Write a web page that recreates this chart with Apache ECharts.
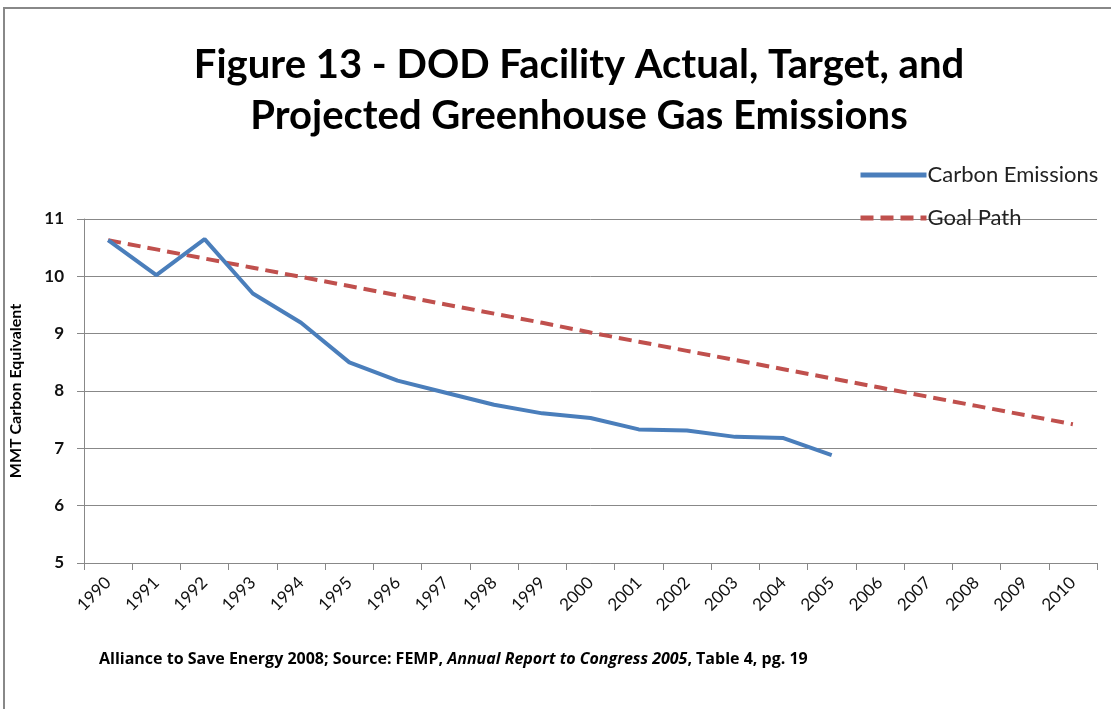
<!DOCTYPE html>
<html lang="en">
<head>
<meta charset="utf-8">
<style>
  html, body, #container { width: 1111px; height: 709px; margin: 0; padding: 0; background: #fff; }
</style>
</head>
<body>
<div id="container"></div>
<script src="https://cdn.jsdelivr.net/npm/echarts@6/dist/echarts.min.js"></script>
<script>
var years = ['1990','1991','1992','1993','1994','1995','1996','1997','1998','1999','2000',
             '2001','2002','2003','2004','2005','2006','2007','2008','2009','2010'];
var carbonEmissions = [10.63, 10.02, 10.65, 9.70, 9.19, 8.50, 8.18, 7.97, 7.76, 7.61, 7.53,
                       7.33, 7.31, 7.20, 7.18, 6.88];
var goalPath = [10.63, 10.47, 10.31, 10.15, 9.99, 9.83, 9.67, 9.51, 9.35, 9.19, 9.02,
                8.86, 8.70, 8.54, 8.38, 8.22, 8.06, 7.90, 7.74, 7.58, 7.42];
var yTicks = [5, 6, 7, 8, 9, 10, 11];

var font = 'Lato, "Open Sans", sans-serif';
var chart = echarts.init(document.getElementById('container'), null, { renderer: 'canvas' });

var option = {
  backgroundColor: '#fff',
  animation: false,
  title: {
    text: 'Figure 13 - DOD Facility Actual, Target, and\nProjected Greenhouse Gas Emissions',
    left: 574, top: 35, textAlign: 'center',
    textStyle: { fontFamily: font, fontSize: 40, fontWeight: 'bold', color: '#000', lineHeight: 51 }
  },
  legend: {
    orient: 'vertical', left: 853, top: 159,
    itemWidth: 66, itemHeight: 14, itemGap: 21,
    itemStyle: { opacity: 0 },
    lineStyle: { width: 5 },
    textStyle: { fontFamily: font, fontSize: 22, color: '#222', padding: [0, 0, 0, -4] },
    data: ['Carbon Emissions', 'Goal Path']
  },
  grid: { left: 80, right: 14, top: 219, bottom: 146 },
  xAxis: {
    type: 'category', data: years, boundaryGap: true,
    axisLine: { lineStyle: { color: '#888', width: 1 } },
    axisTick: { show: true, length: 7, lineStyle: { color: '#888' } },
    axisLabel: { rotate: 45, fontFamily: font, fontSize: 17, color: '#111', margin: 17, interval: 0 },
    splitLine: { show: false }
  },
  yAxis: {
    type: 'value', min: yTicks[0], max: yTicks[yTicks.length - 1], interval: 1,
    name: 'MMT Carbon Equivalent', nameLocation: 'middle', nameGap: 60, nameRotate: 90,
    nameTextStyle: { fontFamily: font, fontSize: 16, fontWeight: 'bold', color: '#000' },
    axisLine: { show: true, lineStyle: { color: '#888' } },
    axisTick: { show: true, length: 7, lineStyle: { color: '#888' } },
    axisLabel: { fontFamily: font, fontSize: 17, fontWeight: 'bold', color: '#111', margin: 20 },
    splitLine: { lineStyle: { color: '#888', width: 1 } }
  },
  series: [
    {
      name: 'Carbon Emissions', type: 'line', data: carbonEmissions,
      symbol: 'none', z: 3,
      lineStyle: { color: '#4a7ebb', width: 4 },
      itemStyle: { color: '#4a7ebb' }
    },
    {
      name: 'Goal Path', type: 'line', data: goalPath,
      symbol: 'none', z: 2,
      lineStyle: { color: '#c0504d', width: 4, type: [13, 7] },
      itemStyle: { color: '#c0504d' }
    }
  ],
  graphic: [
    {
      type: 'rect', silent: true, z: -10,
      shape: { x: 4, y: 8, width: 1140, height: 720 },
      style: { fill: 'none', stroke: '#888', lineWidth: 2 }
    },
    {
      type: 'text', left: 99, top: 651,
      style: {
        text: '{b|Alliance to Save Energy 2008; Source: FEMP, }{i|Annual Report to Congress 2005}{b|, Table 4, pg. 19}',
        rich: {
          b: { fontFamily: '"Open Sans", sans-serif', fontSize: 16, fontWeight: 'bold', fill: '#000' },
          i: { fontFamily: '"Open Sans", sans-serif', fontSize: 16, fontWeight: 'bold', fontStyle: 'italic', fill: '#000' }
        }
      }
    }
  ]
};
chart.setOption(option);
window.addEventListener('resize', chart.resize);
</script>
</body>
</html>
